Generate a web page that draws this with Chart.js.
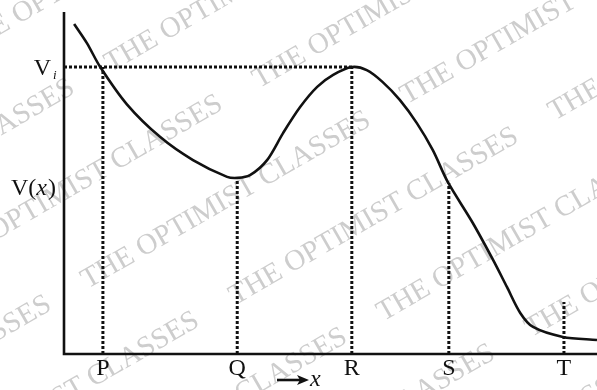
<!DOCTYPE html>
<html>
<head>
<meta charset="utf-8">
<script src="https://cdn.jsdelivr.net/npm/chart.js@4.4.1/dist/chart.umd.min.js"></script>
<style>
html, body { margin: 0; padding: 0; background: #fff; }
#wrap { width: 597px; height: 390px; }
.preload { font-family: "Liberation Serif"; position: absolute; left: -999px; top: 0; }
</style>
</head>
<body>
<span class="preload">V(x) <i>x</i></span>
<div id="wrap"><canvas id="myChart" width="597" height="390"></canvas></div>
<script>
// V(x) curve (x: 0..100 across the axis, y: 0..100 up the axis)
var curveX = [1.9, 4.3, 6.8, 11.8, 18.0, 24.2, 30.6, 32.6, 34.9, 38.1, 41.1, 44.3, 47.5, 50.5, 54.0,
              56.8, 59.8, 63.0, 66.2, 69.2, 72.0, 76.7, 80.5, 83.1, 85.6, 88.0, 93.6, 100];
var curveY = [96.5, 90.9, 83.9, 73.0, 63.5, 56.7, 51.8, 51.5, 52.3, 56.7, 64.6, 72.2, 78.1, 81.6, 83.9,
              83.0, 79.5, 74.3, 67.5, 59.6, 50.3, 38.3, 27.5, 19.6, 12.0, 7.9, 5.0, 4.1];

// points marked on the x axis and the height of their dotted lines
var markLabels = ['P', 'Q', 'R', 'S', 'T'];
var markX = [7.3, 32.5, 54.0, 72.2, 93.8];
var markTop = [83.9, 51.5, 83.9, 50.0, 15.2];

// level of V_i
var levelVi = 83.9;

function drawChart() {
    var ctx = document.getElementById('myChart');
    var serif = '"Liberation Serif", "Times New Roman", serif';

    var curvePts = curveX.map(function(x, i) { return {x: x, y: curveY[i]}; });

    var dotted = {
        borderColor: '#111',
        borderWidth: 3,
        borderDash: [3, 2],
        pointRadius: 0,
        fill: false,
        tension: 0
    };

    var datasets = [];
    datasets.push(Object.assign({}, dotted, {
        data: [{x: 0, y: levelVi}, {x: markX[2], y: levelVi}]
    }));
    markX.forEach(function(x, i) {
        datasets.push(Object.assign({}, dotted, {
            data: [{x: x, y: 0}, {x: x, y: markTop[i]}]
        }));
    });
    datasets.push({
        data: curvePts,
        borderColor: '#111',
        borderWidth: 2.6,
        pointRadius: 0,
        fill: false,
        tension: 0.3
    });

    var extras = {
        id: 'extras',
        beforeDraw: function(chart) {
            var c = chart.ctx;
            c.save();
            c.fillStyle = '#fff';
            c.fillRect(0, 0, chart.width, chart.height);
            // watermark
            c.fillStyle = '#cdcdcd';
            c.font = '29px ' + serif;
            c.textBaseline = 'alphabetic';
            c.rotate(-30 * Math.PI / 180);
            var text = 'THE OPTIMIST CLASSES';
            var w = c.measureText(text).width + 40;
            for (var r = -1; r < 9; r++) {
                for (var k = -3; k < 4; k++) {
                    c.fillText(text, k * w + r * 120 - 60, r * 88 + 30);
                }
            }
            c.restore();
        },
        afterDraw: function(chart) {
            var c = chart.ctx;
            var a = chart.chartArea;
            var xs = chart.scales.x, ys = chart.scales.y;
            c.save();
            // axes
            c.strokeStyle = '#111';
            c.lineWidth = 2.6;
            c.beginPath();
            c.moveTo(a.left, a.top);
            c.lineTo(a.left, a.bottom);
            c.lineTo(a.right, a.bottom);
            c.stroke();

            c.fillStyle = '#111';
            c.textBaseline = 'alphabetic';
            c.font = '24px ' + serif;
            c.textAlign = 'center';
            markLabels.forEach(function(lab, i) {
                c.fillText(lab, xs.getPixelForValue(markX[i]), a.bottom + 21);
            });

            // V_i
            var yv = ys.getPixelForValue(levelVi);
            c.textAlign = 'right';
            c.fillText('V', a.left - 13, yv + 8);
            c.font = 'italic 13px ' + serif;
            c.textAlign = 'left';
            c.fillText('i', a.left - 11, yv + 12);

            // V(x)
            c.font = '24px ' + serif;
            var yl = a.top + 183;
            var x0 = 11;
            c.fillText('V(', x0, yl);
            x0 += c.measureText('V(').width;
            c.font = 'italic 24px ' + serif;
            c.fillText('x', x0, yl);
            x0 += c.measureText('x').width + 1;
            c.font = '24px ' + serif;
            c.fillText(')', x0, yl);

            // arrow  -> x
            var ay = a.bottom + 26;
            c.lineWidth = 2.6;
            c.beginPath();
            c.moveTo(277, ay);
            c.lineTo(300, ay);
            c.stroke();
            c.beginPath();
            c.moveTo(309, ay);
            c.lineTo(297, ay - 5);
            c.lineTo(300, ay);
            c.lineTo(297, ay + 5);
            c.closePath();
            c.fill();
            c.font = 'italic 24px ' + serif;
            c.fillText('x', 310, ay + 6);
            c.restore();
        }
    };

    new Chart(ctx, {
        type: 'line',
        data: { datasets: datasets },
        options: {
            responsive: false,
            animation: false,
            clip: false,
            layout: { padding: { left: 64, top: 12, right: 0, bottom: 36 } },
            plugins: { legend: { display: false }, tooltip: { enabled: false } },
            scales: {
                x: { type: 'linear', min: 0, max: 100, display: false },
                y: { min: 0, max: 100, display: false }
            }
        },
        plugins: [extras]
    });
}

window.addEventListener('DOMContentLoaded', function() {
    Promise.all([
        document.fonts.load('24px "Liberation Serif"'),
        document.fonts.load('italic 24px "Liberation Serif"')
    ]).then(drawChart, drawChart);
});
</script>
</body>
</html>
